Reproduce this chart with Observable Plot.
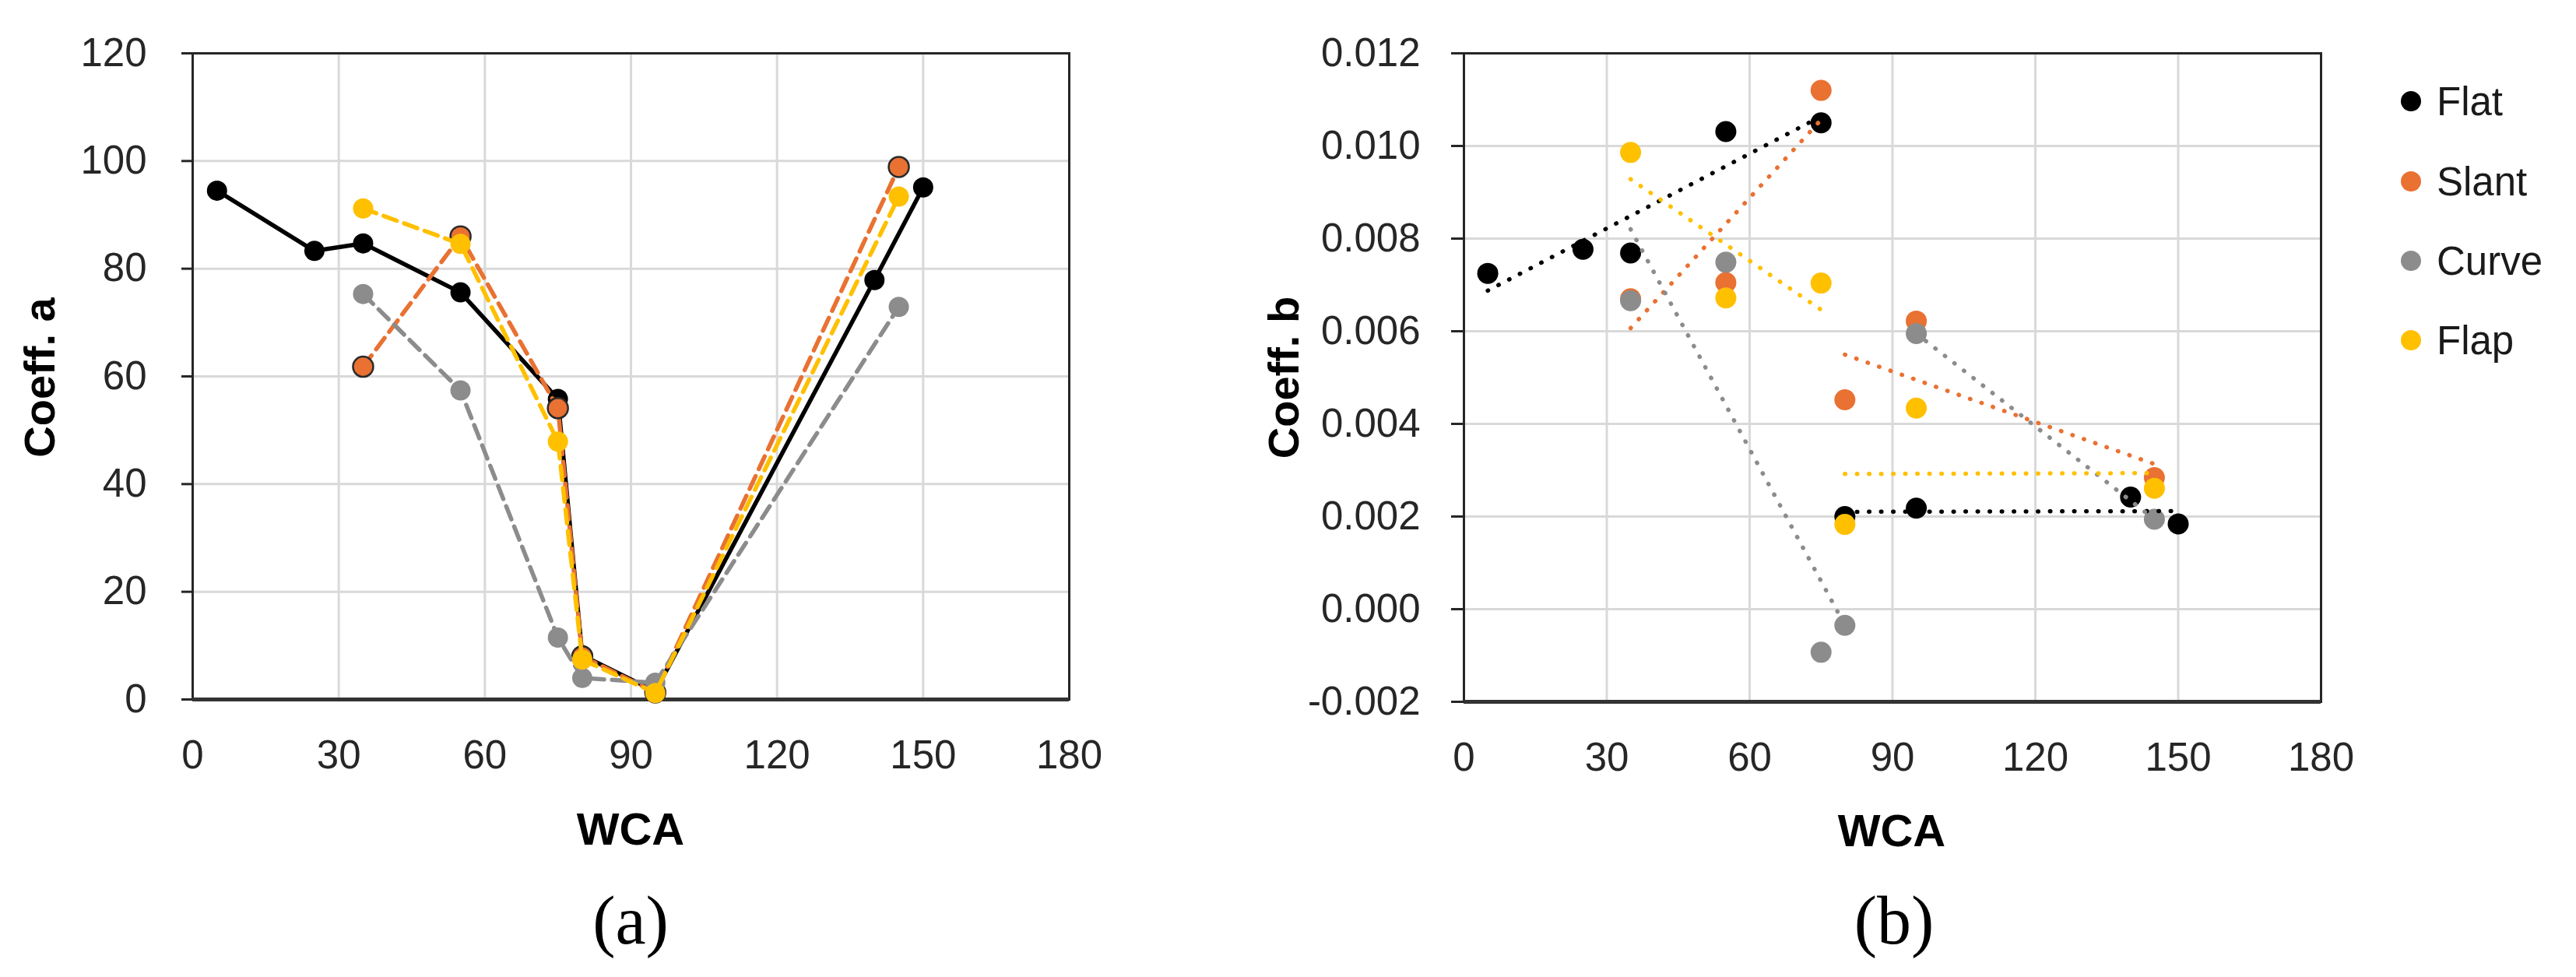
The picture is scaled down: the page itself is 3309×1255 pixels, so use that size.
<!DOCTYPE html>
<html><head><meta charset="utf-8">
<script src="https://cdn.jsdelivr.net/npm/d3@7"></script>
<script src="https://cdn.jsdelivr.net/npm/@observablehq/plot@0.6"></script>
<style>
html,body{margin:0;padding:0;background:#fff;}
#fig{position:relative;width:3309px;height:1255px;background:#fff;overflow:hidden;font-family:"Liberation Sans",Arial,sans-serif;}
#fig .panel{position:absolute;top:0;}
#overlay{position:absolute;left:0;top:0;pointer-events:none;}
</style></head><body><div id="fig"></div>
<script>
// ---- data ----
const series = ["Flat", "Slant", "Curve", "Flap"];
const seriesColors = ["#000000", "#E97132", "#8C8C8C", "#FFC000"];

const flatWCA = [5, 25, 35, 55, 75, 80, 95, 140, 150];
const otherWCA = [35, 55, 75, 80, 95, 145];

// panel (a): coefficient a
const flatA  = [94.5, 83.3, 84.7, 75.6, 55.8, 8.2, 1.5, 77.9, 95.1];
const slantA = [61.8, 86.0, 54.1, 8.0, 1.3, 98.9];
const curveA = [75.3, 57.4, 11.5, 4.0, 3.1, 72.9];
const flapA  = [91.2, 84.6, 47.9, 7.4, 1.2, 93.4];

// panel (b): coefficient b
const flatB  = [0.00725, 0.00777, 0.00769, 0.01031, 0.0105, 0.0020, 0.00218, 0.00242, 0.00184];
const slantB = [0.0067, 0.00705, 0.0112, 0.00452, 0.00622, 0.00284];
const curveB = [0.00666, 0.00749, -0.00093, -0.00035, 0.00595, 0.00194];
const flapB  = [0.00986, 0.00672, 0.00704, 0.00183, 0.00434, 0.00261];

// trendline groups in panel (b)
const flatTrend  = [1, 1, 1, 1, 1, 2, 2, 2, 2];
const slantTrend = [1, 1, 1, 2, 2, 2];
const curveTrend = [1, 1, 1, 1, 2, 2];
const flapTrend  = [1, 1, 1, 2, 2, 2];

const xTicks = [0, 30, 60, 90, 120, 150, 180];
const yTicksA = [0, 20, 40, 60, 80, 100, 120];
const yTicksB = [-0.002, 0, 0.002, 0.004, 0.006, 0.008, 0.010, 0.012];

// ---- tables ----
function rows(name, wcas, vals, trend) {
  return wcas.map((w, i) => ({series: name, wca: w, v: vals[i], seg: name + "-" + (trend ? trend[i] : 0)}));
}
const dataA = [
  ...rows("Flat", flatWCA, flatA),
  ...rows("Slant", otherWCA, slantA),
  ...rows("Curve", otherWCA, curveA),
  ...rows("Flap", otherWCA, flapA)
];
const dataB = [
  ...rows("Flat", flatWCA, flatB, flatTrend),
  ...rows("Slant", otherWCA, slantB, slantTrend),
  ...rows("Curve", otherWCA, curveB, curveTrend),
  ...rows("Flap", otherWCA, flapB, flapTrend)
];

const FONT = '"Liberation Sans", Arial, sans-serif';
const gridStyle = {stroke: "#d9d9d9", strokeOpacity: 1, strokeWidth: 3};
const colorScale = {domain: series, range: seriesColors};

// ---- panel (a) ----
const marksA = [
  Plot.gridX(xTicks, gridStyle),
  Plot.gridY(yTicksA, gridStyle),
  Plot.axisY(yTicksA, {tickSize: 14, tickPadding: 45, strokeWidth: 3, label: null, fontSize: 51}),
  Plot.axisX(xTicks, {tickSize: 0, tickPadding: 52, label: null, fontSize: 51}),
  Plot.frame({stroke: "#262626", strokeWidth: 3}),
  Plot.ruleY([0], {stroke: "#333333", strokeWidth: 5})
];
for (const s of series) {
  const d = dataA.filter(r => r.series === s);
  marksA.push(Plot.line(d, {x: "wca", y: "v", stroke: "series", strokeWidth: 5.5,
    strokeDasharray: s === "Flat" ? null : "18 10"}));
  marksA.push(Plot.dot(d, {x: "wca", y: "v", fill: "series", r: 13,
    stroke: s === "Slant" ? "#2a2a2a" : "none", strokeWidth: 2.5}));
}
const chartA = Plot.plot({
  width: 1400, height: 1000,
  marginLeft: 247, marginRight: 27, marginTop: 68, marginBottom: 102,
  x: {domain: [0, 180]},
  y: {domain: [0, 120]},
  color: colorScale,
  style: {fontFamily: FONT, fontSize: "51px", color: "#262626", background: "transparent", overflow: "visible"},
  marks: marksA
});

// ---- panel (b) ----
const marksB = [
  Plot.gridX(xTicks, gridStyle),
  Plot.gridY(yTicksB, gridStyle),
  Plot.axisY(yTicksB, {tickSize: 16, tickPadding: 40, strokeWidth: 3, label: null, fontSize: 51,
    tickFormat: d => d.toFixed(3)}),
  Plot.axisX(xTicks, {tickSize: 0, tickPadding: 52, label: null, fontSize: 51}),
  Plot.frame({stroke: "#262626", strokeWidth: 3}),
  Plot.ruleY([-0.002], {stroke: "#333333", strokeWidth: 5})
];
for (const s of series) {
  marksB.push(Plot.dot(dataB.filter(r => r.series === s), {x: "wca", y: "v", fill: "series", r: 13.5}));
}
marksB.push(Plot.linearRegressionY(dataB, {x: "wca", y: "v", z: "seg", stroke: "series", ci: 0,
  strokeWidth: 5.5, strokeDasharray: "0.5 15", strokeLinecap: "round"}));
const chartB = Plot.plot({
  width: 1400, height: 1000,
  marginLeft: 280, marginRight: 19, marginTop: 68, marginBottom: 99,
  x: {domain: [0, 180]},
  y: {domain: [-0.002, 0.012]},
  color: colorScale,
  style: {fontFamily: FONT, fontSize: "51px", color: "#262626", background: "transparent", overflow: "visible"},
  marks: marksB
});

const fig = document.getElementById("fig");
chartA.classList.add("panel"); chartA.style.left = "0px";
chartB.classList.add("panel"); chartB.style.left = "1600px";
fig.appendChild(chartA);
fig.appendChild(chartB);

// ---- titles, captions and legend ----
const ns = "http://www.w3.org/2000/svg";
const ov = document.createElementNS(ns, "svg");
ov.setAttribute("id", "overlay");
ov.setAttribute("width", 3309); ov.setAttribute("height", 1255);
function txt(str, x, y, opts) {
  const t = document.createElementNS(ns, "text");
  t.textContent = str;
  t.setAttribute("x", x); t.setAttribute("y", y);
  t.setAttribute("font-family", opts.family || FONT);
  t.setAttribute("font-size", opts.size);
  if (opts.weight) t.setAttribute("font-weight", opts.weight);
  t.setAttribute("text-anchor", opts.anchor || "middle");
  t.setAttribute("fill", opts.fill || "#000");
  if (opts.rotate) t.setAttribute("transform", `rotate(-90 ${x} ${y})`);
  ov.appendChild(t);
}
txt("Coeff. a", 70, 485, {size: 56, weight: "bold", rotate: true});
txt("Coeff. b", 1668, 485, {size: 56, weight: "bold", rotate: true});
txt("WCA", 810, 1085, {size: 58, weight: "bold"});
txt("WCA", 2430, 1087, {size: 58, weight: "bold"});
txt("(a)", 810, 1212, {size: 88, family: '"Liberation Serif", "Times New Roman", serif'});
txt("(b)", 2433, 1212, {size: 88, family: '"Liberation Serif", "Times New Roman", serif'});
const legendY = [130, 233, 335, 437];
series.forEach((s, i) => {
  const c = document.createElementNS(ns, "circle");
  c.setAttribute("cx", 3097); c.setAttribute("cy", legendY[i]); c.setAttribute("r", 13);
  c.setAttribute("fill", seriesColors[i]);
  ov.appendChild(c);
  txt(s, 3130, legendY[i] + 18, {size: 51, anchor: "start", fill: "#1a1a1a"});
});
fig.appendChild(ov);
</script></body></html>
